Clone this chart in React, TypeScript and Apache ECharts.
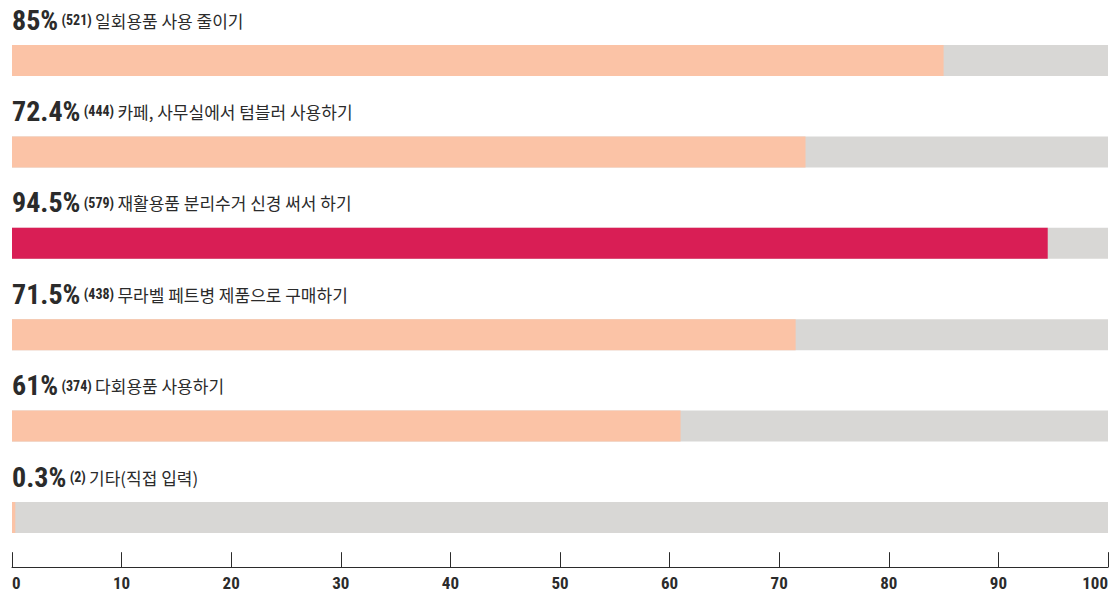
import React, { useEffect, useRef } from "react";
import * as echarts from "echarts";

const categories = [
  "일회용품 사용 줄이기",
  "카페, 사무실에서 텀블러 사용하기",
  "재활용품 분리수거 신경 써서 하기",
  "무라벨 페트병 제품으로 구매하기",
  "다회용품 사용하기",
  "기타(직접 입력)",
];
const percents = [85, 72.4, 94.5, 71.5, 61, 0.3];
const counts = [521, 444, 579, 438, 374, 2];
const highlightIndex = 2;
const xTicks = [0, 10, 20, 30, 40, 50, 60, 70, 80, 90, 100];

const PEACH = "#fbc3a6";
const CRIMSON = "#d91e55";
const GRAY = "#d8d7d5";
const DARK = "#2b2b2b";
const NUM_FONT = "Roboto Condensed";
const KR_FONT = "Noto Sans CJK KR";

export default function App() {
  const ref = useRef<HTMLDivElement>(null);
  useEffect(() => {
    if (!ref.current) return;
    const chart = echarts.init(ref.current, null, { renderer: "svg" });
    chart.setOption({
      animation: false,
      grid: { left: 12, right: 4, top: 14.8, bottom: 28.8 },
      xAxis: {
        type: "value",
        min: xTicks[0],
        max: xTicks[xTicks.length - 1],
        interval: 10,
        offset: 4,
        splitLine: { show: false },
        axisLine: { show: true, lineStyle: { color: DARK, width: 1 } },
        axisTick: { show: true, inside: true, length: 15, lineStyle: { color: DARK, width: 1 } },
        axisLabel: {
          color: DARK,
          fontFamily: NUM_FONT,
          fontWeight: "bold",
          fontSize: 17,
          margin: 7,
          alignMinLabel: "left",
          alignMaxLabel: "right",
        },
      },
      yAxis: {
        type: "category",
        inverse: true,
        data: categories,
        show: false,
      },
      series: [
        {
          type: "bar",
          barWidth: 31,
          showBackground: true,
          backgroundStyle: { color: GRAY },
          data: percents.map((v, i) => ({
            value: v,
            itemStyle: { color: i === highlightIndex ? CRIMSON : PEACH },
          })),
          label: {
            show: true,
            position: [0, -10],
            align: "left",
            verticalAlign: "bottom",
            formatter: (p: any) =>
              `{pct|${percents[p.dataIndex]}%} {cnt|(${counts[p.dataIndex]})} {txt|${categories[p.dataIndex]}}`,
            rich: {
              pct: {
                fontFamily: NUM_FONT,
                fontWeight: "bold",
                fontSize: 28,
                color: DARK,
                lineHeight: 30,
              },
              cnt: {
                fontFamily: NUM_FONT,
                fontWeight: "bold",
                fontSize: 14,
                color: DARK,
                lineHeight: 30,
              },
              txt: {
                fontFamily: KR_FONT,
                fontSize: 17,
                color: DARK,
                lineHeight: 30,
              },
            },
          },
        },
      ],
    });
    return () => chart.dispose();
  }, []);
  return <div ref={ref} style={{ width: 1112, height: 592, position: "absolute", left: 0, top: 0 }} />;
}
